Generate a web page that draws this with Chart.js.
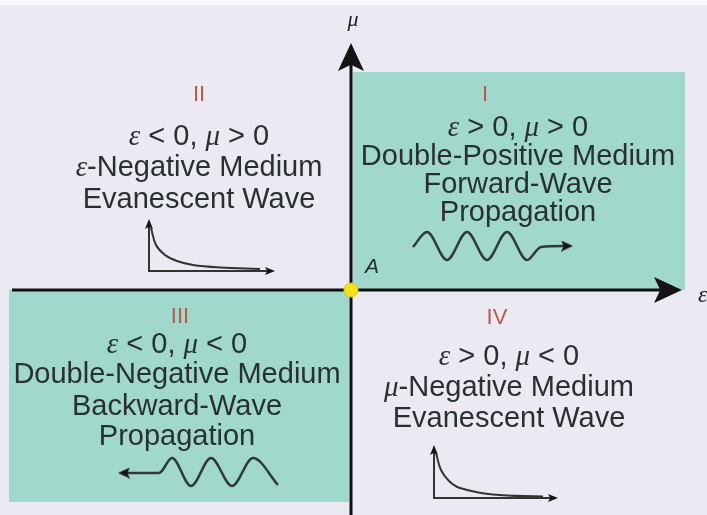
<!DOCTYPE html>
<html>
<head>
    <title>Metamaterial quadrants</title>
    <script src="https://cdn.jsdelivr.net/npm/chart.js"></script>
    <style>
        body { margin: 0; overflow: hidden; background: #ebe9f2; }
        #quadChart { display: block; }
    </style>
</head>
<body>
    <canvas id="quadChart" width="707" height="515"></canvas>
    <script>
        // quadrant texts (I, II, III, IV)
        const quadrantNames = ['I', 'II', 'III', 'IV'];
        const quadrantSigns = ['ε > 0, μ > 0', 'ε < 0, μ > 0', 'ε < 0, μ < 0', 'ε > 0, μ < 0'];
        const quadrantMedia = ['Double-Positive Medium', 'ε-Negative Medium', 'Double-Negative Medium', 'μ-Negative Medium'];
        const quadrantWaves = [['Forward-Wave', 'Propagation'], ['Evanescent Wave'], ['Backward-Wave', 'Propagation'], ['Evanescent Wave']];
        const axisLabels = ['ε', 'μ', 'A'];

        // shaded quadrants (I and III), edges in axis units
        const shadeI = [{x: 0.02, y: 2.18}, {x: 3.34, y: 2.18}];
        const shadeIII = [{x: -3.42, y: -2.12}, {x: -0.02, y: -2.12}];

        // sketched waves (last / first point is the arrow end)
        const forwardWave = [
            {x: 0.62, y: 0.43}, {x: 0.76, y: 0.58}, {x: 0.96, y: 0.30}, {x: 1.16, y: 0.58},
            {x: 1.36, y: 0.30}, {x: 1.56, y: 0.58}, {x: 1.76, y: 0.30}, {x: 1.90, y: 0.43},
            {x: 2.16, y: 0.44}
        ];
        const backwardWave = [
            {x: -2.27, y: -1.83}, {x: -1.92, y: -1.83},
            {x: -1.79, y: -1.68}, {x: -1.60, y: -1.96}, {x: -1.40, y: -1.68},
            {x: -1.19, y: -1.96}, {x: -0.98, y: -1.68}, {x: -0.73, y: -1.95}
        ];

        // evanescent decay sketches
        const decayAxesII = [{x: -2.02, y: 0.66}, {x: -2.02, y: 0.19}, {x: -0.81, y: 0.19}];
        const decayCurveII = [
            {x: -2.00, y: 0.62}, {x: -1.95, y: 0.45}, {x: -1.86, y: 0.35}, {x: -1.74, y: 0.29},
            {x: -1.58, y: 0.25}, {x: -1.31, y: 0.225}, {x: -0.91, y: 0.21}
        ];
        const decayAxesIV = [{x: 0.83, y: -1.60}, {x: 0.83, y: -2.08}, {x: 2.02, y: -2.08}];
        const decayCurveIV = [
            {x: 0.85, y: -1.63}, {x: 0.90, y: -1.80}, {x: 0.98, y: -1.91}, {x: 1.09, y: -1.98},
            {x: 1.42, y: -2.045}, {x: 1.92, y: -2.065}
        ];

        // main axes
        const epsAxis = [{x: -3.39, y: 0}, {x: 3.17, y: 0}];
        const muAxis = [{x: 0, y: -2.30}, {x: 0, y: 2.33}];
        const origin = [{x: 0, y: 0}];

        // where the text blocks sit (axis units)
        const textLayout = [
            {numeral: [1.34, 1.95], x: 1.67, ys: [1.62, 1.33, 1.05, 0.77]},
            {numeral: [-1.52, 1.95], x: -1.52, ys: [1.53, 1.22, 0.90]},
            {numeral: [-1.71, -0.27], x: -1.74, ys: [-0.55, -0.85, -1.17, -1.47]},
            {numeral: [1.46, -0.28], x: 1.58, ys: [-0.67, -0.98, -1.29]}
        ];
        const axisLabelPos = [[3.47, -0.06], [0.02, 2.70], [0.21, 0.23]];

        function makeArrow(w, h) {
            const c = document.createElement('canvas');
            c.width = w;
            c.height = h;
            const g = c.getContext('2d');
            g.fillStyle = '#141414';
            g.beginPath();
            g.moveTo(w / 2, 0);
            g.lineTo(w, h);
            g.lineTo(w / 2, h * 0.78);
            g.lineTo(0, h);
            g.closePath();
            g.fill();
            return c;
        }
        const bigArrow = makeArrow(26, 28);
        const smallArrow = makeArrow(8, 10);
        const waveArrow = makeArrow(11, 12);

        function lineSet(data, color, width, order, extra) {
            return Object.assign({
                data: data,
                borderColor: color,
                borderWidth: width,
                pointRadius: 0,
                fill: false,
                tension: 0,
                order: order
            }, extra || {});
        }

        function arrowSet(points, img, rotation) {
            return {
                data: points,
                showLine: false,
                pointStyle: img,
                pointRadius: 6,
                pointRotation: rotation,
                order: 2
            };
        }

        function drawRich(ctx, str, cx, cy, size, color) {
            const runs = [];
            for (const ch of str) {
                const greek = ch === 'ε' || ch === 'μ';
                const last = runs[runs.length - 1];
                if (last && last.greek === greek) last.t += ch;
                else runs.push({t: ch, greek: greek});
            }
            const fontFor = r => r.greek ? `italic ${size}px "Liberation Serif"` : `${size}px "Liberation Sans"`;
            let total = 0;
            for (const r of runs) {
                ctx.font = fontFor(r);
                r.w = ctx.measureText(r.t).width;
                total += r.w;
            }
            let x = cx - total / 2;
            ctx.fillStyle = color;
            ctx.textAlign = 'left';
            ctx.textBaseline = 'middle';
            for (const r of runs) {
                ctx.font = fontFor(r);
                ctx.fillText(r.t, x, cy);
                x += r.w;
            }
        }

        const backdrop = {
            id: 'backdrop',
            beforeDraw(chart) {
                const ctx = chart.ctx;
                ctx.save();
                ctx.fillStyle = '#ebe9f2';
                ctx.fillRect(0, 0, chart.width, chart.height);
                ctx.fillStyle = '#f7f6fa';
                ctx.fillRect(0, 0, chart.width, 5);
                ctx.restore();
            }
        };

        const quadrantText = {
            id: 'quadrantText',
            afterDatasetsDraw(chart) {
                const ctx = chart.ctx;
                const sx = chart.scales.x, sy = chart.scales.y;
                ctx.save();
                for (let i = 0; i < quadrantNames.length; i++) {
                    const lay = textLayout[i];
                    ctx.font = '22px "Liberation Sans"';
                    ctx.fillStyle = '#b8584c';
                    ctx.textAlign = 'center';
                    ctx.textBaseline = 'middle';
                    ctx.fillText(quadrantNames[i], sx.getPixelForValue(lay.numeral[0]), sy.getPixelForValue(lay.numeral[1]));
                    const lines = [quadrantSigns[i], quadrantMedia[i]].concat(quadrantWaves[i]);
                    const cx = sx.getPixelForValue(lay.x);
                    lines.forEach((t, k) => {
                        drawRich(ctx, t, cx, sy.getPixelForValue(lay.ys[k]), 29, '#283130');
                    });
                }
                // axis names and point A
                ctx.fillStyle = '#222';
                ctx.textBaseline = 'middle';
                ctx.textAlign = 'left';
                ctx.font = 'italic 24px "Liberation Serif"';
                ctx.fillText(axisLabels[0], sx.getPixelForValue(axisLabelPos[0][0]), sy.getPixelForValue(axisLabelPos[0][1]));
                ctx.textAlign = 'center';
                ctx.font = 'italic 22px "Liberation Serif"';
                ctx.fillText(axisLabels[1], sx.getPixelForValue(axisLabelPos[1][0]), sy.getPixelForValue(axisLabelPos[1][1]));
                ctx.font = 'italic 21px "Liberation Sans"';
                ctx.fillStyle = '#24302e';
                ctx.fillText(axisLabels[2], sx.getPixelForValue(axisLabelPos[2][0]), sy.getPixelForValue(axisLabelPos[2][1]));
                ctx.restore();
            }
        };

        const teal = '#a0d9cc';
        const ink = '#2f3a38';

        new Chart(document.getElementById('quadChart'), {
            type: 'line',
            data: {
                datasets: [
                    lineSet(shadeI, teal, 0, 20, {fill: {value: 0}, backgroundColor: teal}),
                    lineSet(shadeIII, teal, 0, 20, {fill: {value: 0}, backgroundColor: teal}),
                    lineSet(epsAxis, '#111', 3, 10),
                    lineSet(muAxis, '#111', 3, 10),
                    lineSet(forwardWave, ink, 2.5, 8, {cubicInterpolationMode: 'monotone'}),
                    lineSet(backwardWave, ink, 2.5, 8, {cubicInterpolationMode: 'monotone'}),
                    lineSet(decayAxesII, '#333', 2, 8),
                    lineSet(decayCurveII, '#333', 2, 8, {tension: 0.4}),
                    lineSet(decayAxesIV, '#333', 2, 8),
                    lineSet(decayCurveIV, '#333', 2, 8, {tension: 0.4}),
                    arrowSet([muAxis[1]], bigArrow, 0),
                    arrowSet([epsAxis[1]], bigArrow, 90),
                    arrowSet([decayAxesII[0], decayAxesIV[0]], smallArrow, 0),
                    arrowSet([decayAxesII[2], decayAxesIV[2]], smallArrow, 90),
                    arrowSet([forwardWave[forwardWave.length - 1]], waveArrow, 90),
                    arrowSet([backwardWave[0]], waveArrow, -90),
                    {
                        data: origin,
                        showLine: false,
                        pointRadius: 7,
                        pointBackgroundColor: '#f2e11d',
                        pointBorderColor: '#e3cf10',
                        pointBorderWidth: 1,
                        order: 1
                    }
                ]
            },
            options: {
                responsive: false,
                devicePixelRatio: 1,
                animation: false,
                events: [],
                layout: { padding: 0, autoPadding: false },
                scales: {
                    x: { type: 'linear', min: -3.51, max: 3.56, display: false },
                    y: { type: 'linear', min: -2.25, max: 2.90, display: false }
                },
                plugins: {
                    legend: { display: false },
                    tooltip: { enabled: false }
                }
            },
            plugins: [backdrop, quadrantText]
        });
    </script>
</body>
</html>
